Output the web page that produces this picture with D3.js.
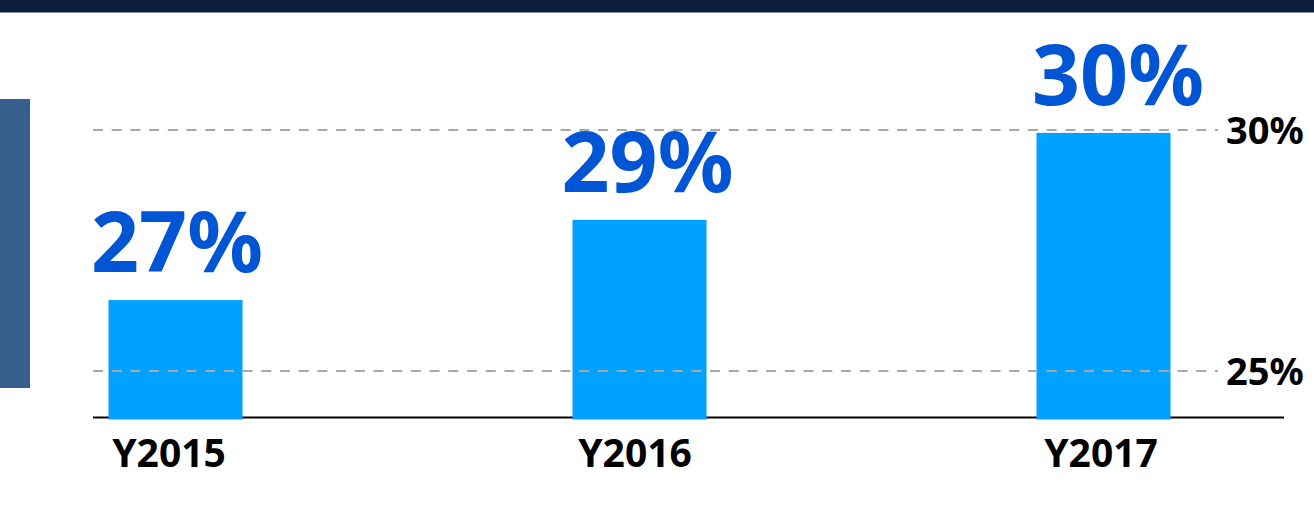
<!DOCTYPE html>
<html>
<head>
<meta charset="utf-8">
<script src="https://cdn.jsdelivr.net/npm/d3@7"></script>
<style>
  html, body { margin: 0; padding: 0; background: #ffffff; }
  svg { display: block; }
</style>
</head>
<body>
<svg id="chart" width="1314" height="520"></svg>
<script>
// ---- data ----
const categories = ["Y2015", "Y2016", "Y2017"];
const barValues = [26.47, 28.13, 29.93];          // bar heights as drawn (%)
const valueLabels = ["27%", "29%", "30%"];         // labels printed above bars
const gridValues = [25, 30];
const gridLabels = ["25%", "30%"];

const svg = d3.select("#chart");
const W = 1314, H = 520;

// decorations
svg.append("rect").attr("x", 0).attr("y", 0).attr("width", W).attr("height", 12.5).attr("fill", "#0c1e3e");
svg.append("rect").attr("x", 0).attr("y", 99).attr("width", 30).attr("height", 289).attr("fill", "#375f8e");

// scales
const y = d3.scaleLinear().domain([24.04, 30]).range([417.5, 129.5]);
const x = d3.scalePoint().domain(categories).range([175.5, 1103.5]);
const xLabel = d3.scalePoint().domain(categories).range([177, 1118]);
const xCat = d3.scalePoint().domain(categories).range([169, 1101]);
const barW = 134;

// baseline
svg.append("line")
  .attr("x1", 93).attr("x2", 1284)
  .attr("y1", y(24.04)).attr("y2", y(24.04))
  .attr("stroke", "#000").attr("stroke-width", 2.2);

// bars
svg.selectAll("rect.bar").data(categories).join("rect")
  .attr("class", "bar")
  .attr("x", d => x(d) - barW / 2)
  .attr("width", barW)
  .attr("y", (d, i) => y(barValues[i]))
  .attr("height", (d, i) => y(24.04) + 2 - y(barValues[i]))
  .attr("fill", "#00a2ff");

// dashed gridlines (on top of bars)
svg.selectAll("line.grid").data(gridValues).join("line")
  .attr("class", "grid")
  .attr("x1", 93).attr("x2", 1218)
  .attr("y1", d => Math.round(y(d))).attr("y2", d => Math.round(y(d)))
  .attr("stroke", "#a8a8a8").attr("stroke-width", 2)
  .attr("stroke-dasharray", "10,8.7");

// right axis labels
svg.selectAll("text.glabel").data(gridValues).join("text")
  .attr("class", "glabel")
  .attr("x", 1226)
  .attr("y", d => y(d) + 14)
  .attr("font-family", "'Noto Sans', 'Open Sans', sans-serif")
  .attr("font-weight", "bold")
  .attr("font-size", 38)
  .attr("fill", "#000")
  .text((d, i) => gridLabels[i]);

// value labels
svg.selectAll("text.vlabel").data(categories).join("text")
  .attr("class", "vlabel")
  .attr("x", d => xLabel(d))
  .attr("y", (d, i) => y(barValues[i]) - 28)
  .attr("text-anchor", "middle")
  .attr("font-family", "'Noto Sans', 'Open Sans', sans-serif")
  .attr("font-weight", "bold")
  .attr("font-size", 84)
  .attr("fill", "#0055d4")
  .text((d, i) => valueLabels[i]);

// category labels
svg.selectAll("text.clabel").data(categories).join("text")
  .attr("class", "clabel")
  .attr("x", d => xCat(d))
  .attr("y", 467)
  .attr("text-anchor", "middle")
  .attr("font-family", "'Noto Sans', 'Open Sans', sans-serif")
  .attr("font-weight", "bold")
  .attr("font-size", 39)
  .attr("fill", "#000")
  .text(d => d);
</script>
</body>
</html>
